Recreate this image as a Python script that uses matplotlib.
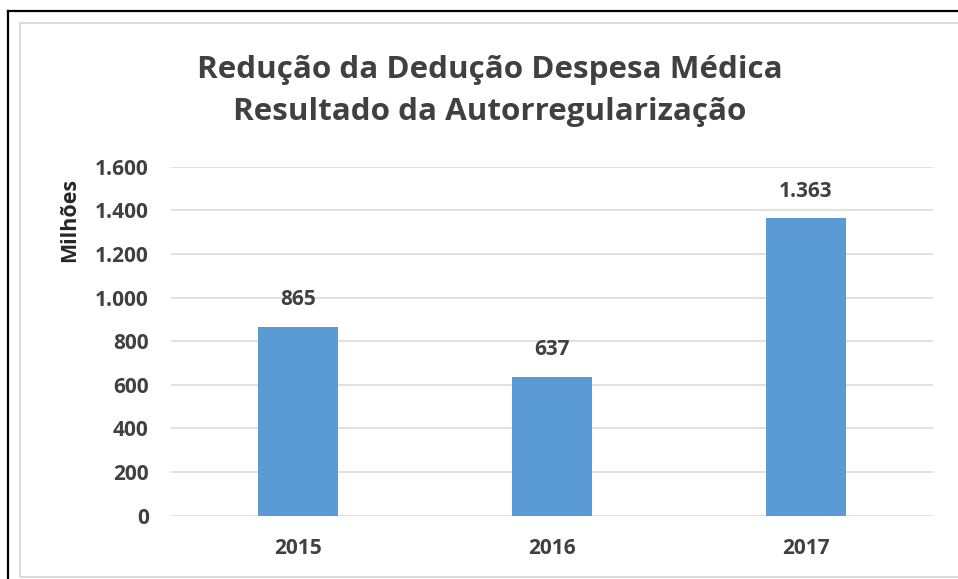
import matplotlib.pyplot as plt
from matplotlib.patches import Rectangle
from matplotlib.lines import Line2D

anos = ['2015', '2016', '2017']
valores = [865, 637, 1363]
y_ticks = [0, 200, 400, 600, 800, 1000, 1200, 1400, 1600]

titulo = 'Redução da Dedução Despesa Médica\nResultado da Autorregularização'
cor_barra = '#5B9BD5'
cor_texto = '#404040'
cor_grade = '#D9D9D9'

plt.rcParams['font.family'] = ['Open Sans', 'DejaVu Sans']


def fmt(v):
    return f'{v:,}'.replace(',', '.')


W, H = 958, 579
fig = plt.figure(figsize=(W / 100, H / 100), dpi=100)
ax = fig.add_axes([171 / W, 1 - 515.5 / H, (933 - 171) / W, (515.5 - 166.7) / H])

x = range(len(anos))
barras = ax.bar(x, valores, width=0.313, color=cor_barra, zorder=3)

ax.set_xlim(-0.5, 2.5)
ax.set_ylim(0, 1600)
ax.set_yticks(y_ticks)
ax.set_yticklabels([fmt(v) for v in y_ticks])
ax.set_xticks(list(x))
ax.set_xticklabels(anos)

for lbl in ax.get_xticklabels() + ax.get_yticklabels():
    lbl.set_fontweight('bold')
    lbl.set_fontsize(15)
    lbl.set_color(cor_texto)

ax.tick_params(axis='y', length=0, pad=16)
ax.tick_params(axis='x', length=0, pad=16)
ax.grid(axis='y', color=cor_grade, linewidth=1.1, zorder=0)
for s in ax.spines.values():
    s.set_visible(False)

for b, v in zip(barras, valores):
    ax.annotate(fmt(v), (b.get_x() + b.get_width() / 2, v), xytext=(0, 12),
                textcoords='offset points', ha='center', va='bottom',
                fontsize=15, fontweight='bold', color=cor_texto)

fig.text(490 / W, 1 - 91 / H, titulo, ha='center', va='center', fontsize=22.6,
         fontweight='bold', color=cor_texto, linespacing=1.55)
fig.text(70 / W, 1 - 220 / H, 'Milhões', rotation=90, ha='center', va='center',
         fontsize=15.5, fontweight='bold', color='#262626')

# moldura
fig.add_artist(Rectangle((20 / W, 1 - 577 / H), 1.0, (577 - 22.5) / H,
                         transform=fig.transFigure, fill=False,
                         edgecolor=cor_grade, linewidth=1.3))
fig.add_artist(Line2D([8 / W, 8 / W], [0, 1 - 10.5 / H], transform=fig.transFigure,
                      color='black', linewidth=1.6))
fig.add_artist(Line2D([8 / W, 1.0], [1 - 10.5 / H, 1 - 10.5 / H],
                      transform=fig.transFigure, color='black', linewidth=1.6))

fig.savefig('out.png', dpi=100)
